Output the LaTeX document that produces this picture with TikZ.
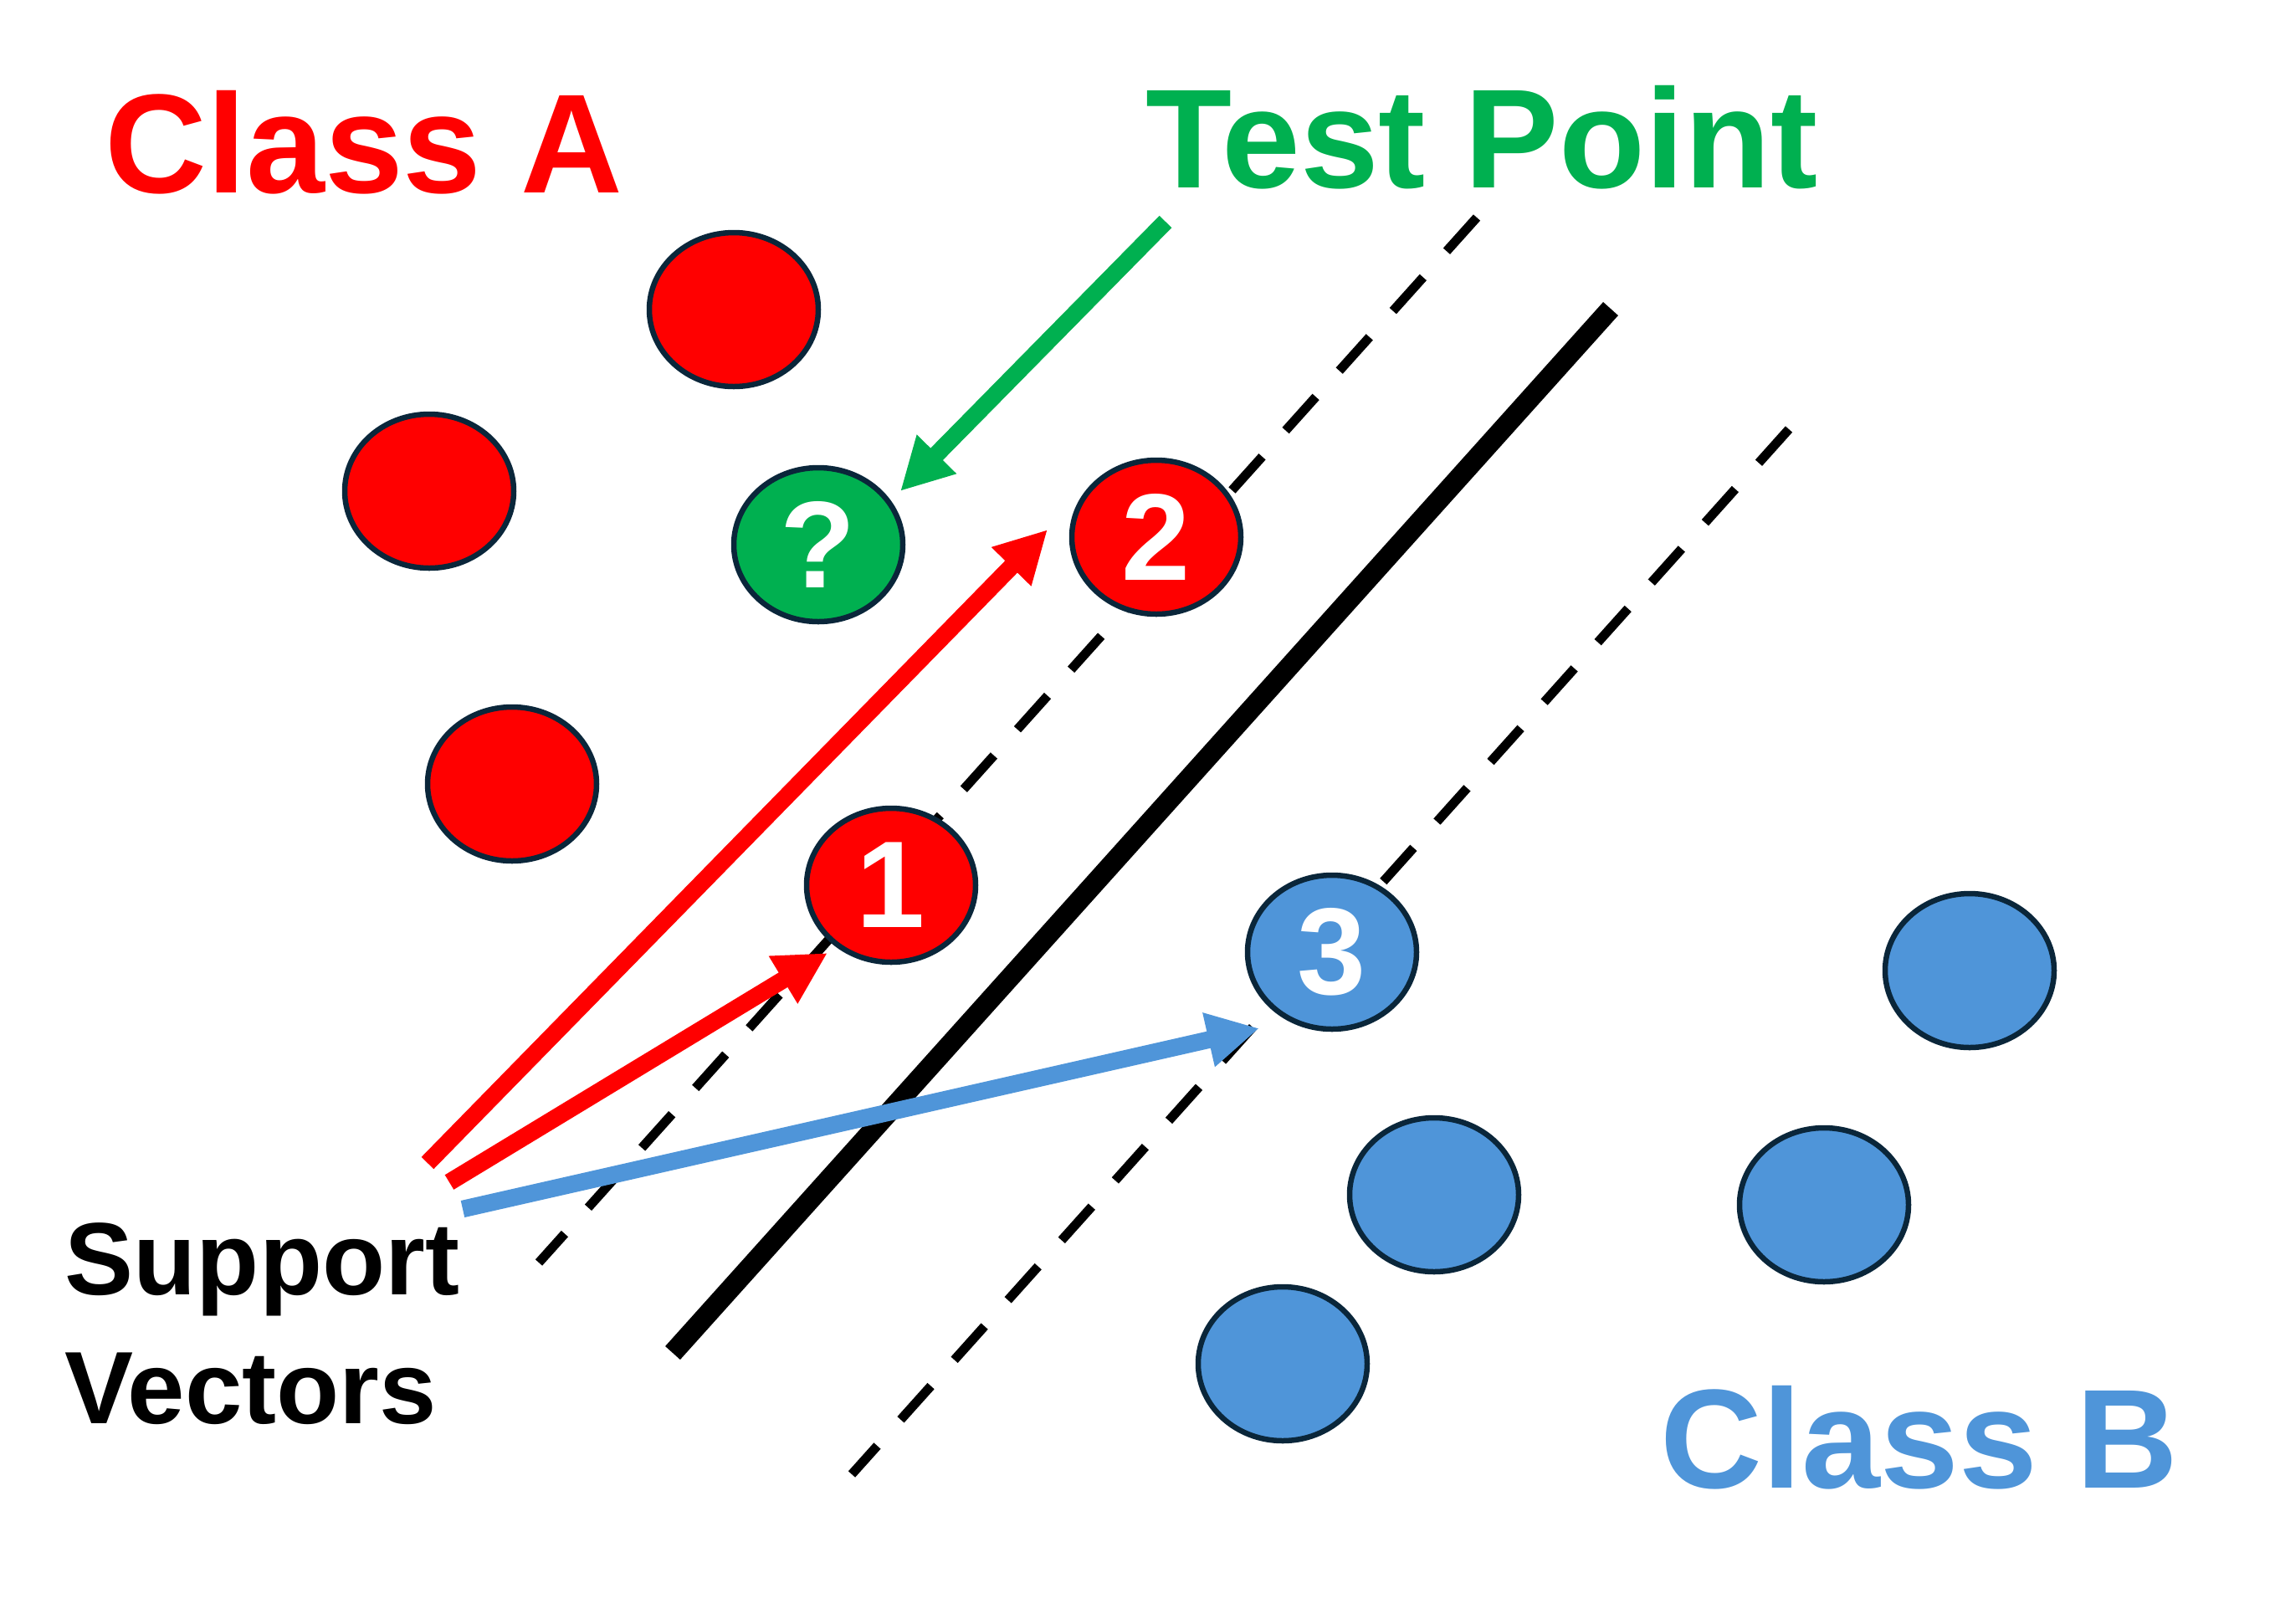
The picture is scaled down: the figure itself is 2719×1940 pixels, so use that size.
\documentclass[tikz,border=0pt]{standalone}
\usepackage{fontspec}
\setmainfont{Liberation Sans}
\usepackage{tikz}
\definecolor{svred}{RGB}{255,0,0}
\definecolor{svgreen}{RGB}{0,176,80}
\definecolor{svblue}{RGB}{79,149,217}
\definecolor{svnavy}{RGB}{10,38,58}
\usetikzlibrary{shapes}
\usetikzlibrary{arrows.meta}
\usetikzlibrary{positioning}
\tikzset{pt/.style={ellipse,draw=svnavy,line width=0.65mm,minimum width=20.2mm,minimum height=18.4mm,inner sep=0pt,text=white,font=\bfseries\fontsize{42}{50}\selectfont}}
\tikzset{apt/.style={pt,fill=svred}}
\tikzset{bpt/.style={pt,fill=svblue}}
\tikzset{qpt/.style={pt,fill=svgreen}}
\tikzset{line/.style={black,line width=2.4mm}}
\tikzset{dline/.style={black,line width=1.1mm,dash pattern=on 5.4mm off 4.2mm}}
\tikzset{vec/.style={line width=2.05mm,-{Triangle[length=6.2mm,width=6.2mm]}}}
\tikzset{lbl/.style={anchor=base west,inner sep=0pt,font=\bfseries\fontsize{48}{58}\selectfont}}

\begin{document}
\begin{tikzpicture}[x=0.1mm,y=-0.1mm]
        \useasboundingbox (0,0) rectangle (2719,1940);
        \coordinate (mt1) at (1765,260);
        \coordinate (mb1) at (644,1509);
        \coordinate (ht) at (1925,369);
        \coordinate (hb) at (804,1617);
        \coordinate (mt2) at (2138,513);
        \coordinate (mb2) at (1018,1762);
        \draw[dline] (mt1) -- (mb1);
        \draw[dline] (mt2) -- (mb2);
        \draw[line] (ht) -- (hb);
        \node[apt] (a1) at (877,370) {};
        \node[apt] (a2) at (513,587) {};
        \node[apt] (a3) at (612,937) {};
        \node[apt] (sv1) at (1065,1058) {1};
        \node[apt] (sv2) at (1382,642) {2};
        \node[qpt] (q) at (978,651) {?};
        \node[bpt] (sv3) at (1592,1138) {3};
        \node[bpt] (b1) at (2354,1160) {};
        \node[bpt] (b2) at (1714,1428) {};
        \node[bpt] (b3) at (2180,1440) {};
        \node[bpt] (b4) at (1533,1630) {};
        \node[lbl,text=svred] (classa) at (125,230) {Class A};
        \node[lbl,text=svgreen] (test) at (1369,224) {Test Point};
        \node[lbl,text=svblue] (classb) at (1984,1778) {Class B};
        \node[lbl,align=left,font=\bfseries\fontsize{35}{43.8}\selectfont] (sv) at (77,1701) {Support\\Vectors};
        \coordinate (r1s) at (511,1390);
        \coordinate (r1e) at (1252,633);
        \coordinate (r2s) at (537,1413);
        \coordinate (r2e) at (989,1139);
        \coordinate (b3s) at (553,1445);
        \coordinate (b3e) at (1505,1229);
        \coordinate (gs) at (1393,265);
        \coordinate (ge) at (1076,587);
        \draw[vec,svred] (r1s) -- (r1e);
        \draw[vec,svred] (r2s) -- (r2e);
        \draw[vec,svblue] (b3s) -- (b3e);
        \draw[vec,svgreen] (gs) -- (ge);
      \end{tikzpicture}
\end{document}
